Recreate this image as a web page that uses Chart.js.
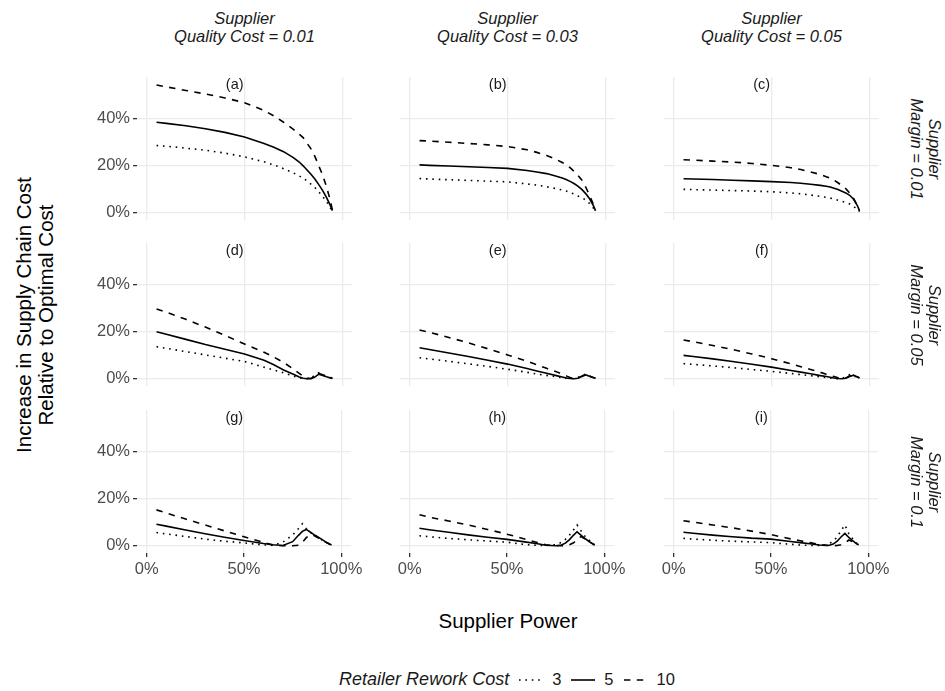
<!DOCTYPE html>
<html lang="en">

<head>
    <meta charset="UTF-8">
    <title>Supply Chain Cost by Supplier Power</title>
    <script src="https://cdn.jsdelivr.net/npm/chart.js@4.4.1/dist/chart.umd.min.js"></script>
    <style>
        body { margin: 0; background: #fff; }
        #wrap { position: relative; width: 945px; height: 691px; font-family: "Liberation Sans", Arial, sans-serif; }
        canvas { position: absolute; }
        .txt { position: absolute; white-space: pre; text-align: center; color: #1a1a1a; }
        .strip { font-size: 16.5px; font-style: italic; line-height: 18px; }
        .title { font-size: 20.5px; line-height: 22px; color: #000; }
        #legend { position: absolute; left: 0; width: 1014px; top: 669px; display: flex; justify-content: center; align-items: center; font-size: 16.5px; color: #1a1a1a; }
        #legend canvas { position: static; margin: 0 9px 0 10px; }
    </style>
</head>

<body>
    <div id="wrap">
        <div id="legend"></div>
    </div>
    <script>
        // supplier power (%) where the curves were read
        const power = [5, 10, 20, 30, 40, 50, 60, 65, 70, 75, 78, 80, 82, 84, 86, 88, 90, 92, 94, 95]

        const qualityCosts = ['0.01', '0.03', '0.05']
        const margins = ['0.01', '0.05', '0.1']
        const reworkCosts = ['3', '5', '10']
        const tags = ['(a)', '(b)', '(c)', '(d)', '(e)', '(f)', '(g)', '(h)', '(i)']
        const xTicks = [0, 50, 100]
        const yTicks = [0, 20, 40]

        // increase in supply chain cost (%), per panel and rework cost
        const a3 = [28.6, 28.3, 27.5, 26.6, 25.4, 23.8, 21.7, 20.4, 18.8, 17, 15.7, 14.8, 13.6, 12.2, 10.8, 9, 7, 4.8, 2, 0.5]
        const a5 = [38.5, 38, 37, 35.7, 34.2, 32.2, 29.5, 27.9, 26, 23.5, 21.6, 20, 18.2, 16.4, 14.4, 12, 9.5, 6.5, 3, 1]
        const a10 = [54.3, 53.5, 52, 50.5, 48.8, 46.8, 43.5, 41.2, 38.5, 35.5, 33.4, 32, 29.6, 27.2, 24, 20, 16, 11, 5, 1]

        const b3 = [14.6, 14.4, 14.1, 13.8, 13.5, 13.2, 12.3, 11.8, 11.1, 10.3, 9.7, 9.3, 8.7, 8, 7.2, 6.5, 5.5, 4, 2, 0.5]
        const b5 = [20.4, 20.2, 19.9, 19.6, 19.3, 18.9, 18, 17.4, 16.7, 15.6, 14.8, 14.2, 13.4, 12.5, 11.4, 10, 8.2, 6, 3, 1]
        const b10 = [30.7, 30.5, 30, 29.5, 28.9, 28.2, 26.8, 25.7, 24.4, 22.7, 21.4, 20.5, 19.2, 17.7, 16, 14, 11, 7.5, 3.5, 1]

        const c3 = [10, 9.9, 9.7, 9.5, 9.3, 9, 8.5, 8.1, 7.6, 7, 6.6, 6.3, 5.9, 5.4, 4.9, 4.5, 3.8, 2.8, 1.3, 0.5]
        const c5 = [14.5, 14.4, 14.2, 13.9, 13.6, 13.3, 12.9, 12.6, 12.2, 11.7, 11.3, 11, 10.5, 9.9, 9.2, 8.5, 7.5, 5.8, 3, 1]
        const c10 = [22.6, 22.4, 22, 21.6, 21, 20.2, 19.2, 18.4, 17.4, 16.3, 15.4, 14.8, 13.9, 12.8, 11.6, 10.3, 8.4, 6.2, 3, 1]

        const d3 = [13.7, 13, 11.6, 10.2, 8.8, 7.4, 5, 3.8, 2.6, 1.2, 0.5, 0.2, 0.1, 0.5, 1.5, 2.6, 1.7, 1, 0.5, 0.3]
        const d5 = [20, 19, 16.8, 14.6, 12.6, 10.6, 7.9, 6, 3.8, 2, 0.8, 0.3, 0.1, 0.1, 0.8, 2, 1.5, 0.9, 0.4, 0.2]
        const d10 = [29.7, 28.3, 25.3, 22, 18.5, 14.8, 11.3, 9.3, 7, 4.2, 2.4, 1.2, 0.4, 0.2, 1.2, 2.4, 1.8, 1.2, 0.6, 0.4]

        const e3 = [9, 8.5, 7.5, 6.4, 5.3, 4.1, 2.8, 2.1, 1.5, 0.9, 0.5, 0.3, 0.2, 0.2, 0.6, 1.5, 2, 1.2, 0.5, 0.3]
        const e5 = [13.2, 12.5, 11, 9.5, 7.9, 6.3, 4.4, 3.4, 2.4, 1.4, 0.8, 0.4, 0.2, 0.1, 0.3, 1, 1.7, 1.1, 0.5, 0.3]
        const e10 = [20.8, 19.8, 17.6, 15.3, 12.8, 10.2, 7.5, 6, 4.5, 3, 2, 1.3, 0.6, 0.2, 0.3, 1.2, 2, 1.2, 0.6, 0.4]

        const f3 = [6.5, 6.2, 5.5, 4.8, 4, 3.2, 2.3, 1.8, 1.4, 0.9, 0.6, 0.4, 0.2, 0.1, 0.3, 0.8, 1.8, 1.3, 0.6, 0.3]
        const f5 = [10, 9.5, 8.5, 7.4, 6.2, 5, 3.6, 2.9, 2.2, 1.4, 1, 0.7, 0.4, 0.2, 0.1, 0.3, 1, 1.6, 0.8, 0.4]
        const f10 = [16.5, 15.8, 14.2, 12.5, 10.6, 8.6, 6.4, 5.2, 4, 2.8, 2, 1.5, 1, 0.5, 0.2, 0.4, 1.2, 1.8, 0.8, 0.5]

        const g3 = [5.7, 5.1, 4, 2.9, 2, 1.3, 0.4, 0.3, 1.6, 4.6, 7.4, 9.4, 7.4, 5.8, 4.6, 3.6, 2.6, 1.6, 0.7, 0.3]
        const g5 = [9.2, 8.4, 6.8, 5.2, 3.7, 2.3, 1, 0.5, 0.2, 1.8, 4.5, 6.2, 7, 5.9, 4.8, 3.8, 2.8, 1.7, 0.8, 0.4]
        const g10 = [15.3, 14, 11.4, 8.9, 6.4, 3.9, 1.5, 0.3, 0.1, 0.1, 0.3, 1.5, 3.5, 4.8, 4.4, 3.5, 2.6, 1.6, 0.7, 0.4]

        const h3 = [4.3, 3.9, 3.2, 2.6, 2.1, 1.6, 0.5, 0.3, 0.2, 0.5, 1.5, 2.8, 4.5, 6.6, 8.9, 6.4, 4.2, 2.6, 1.1, 0.4]
        const h5 = [7.5, 6.9, 5.8, 4.7, 3.7, 2.8, 1.6, 1, 0.3, 0.1, 0.4, 1.2, 2.6, 4.4, 6, 4.6, 3.2, 2, 0.9, 0.4]
        const h10 = [13.2, 12.2, 10.6, 8.9, 7, 5, 2.7, 1.6, 0.5, 0.1, 0.1, 0.2, 0.5, 1.2, 2.5, 4, 3, 2, 1, 0.5]

        const i3 = [3.2, 2.9, 2.4, 2, 1.7, 1.4, 0.7, 0.4, 0.2, 0.2, 0.5, 1, 2, 3.8, 6.4, 8.9, 5.2, 3, 1.2, 0.5]
        const i5 = [5.8, 5.4, 4.6, 3.9, 3.3, 2.9, 1.9, 1.4, 0.9, 0.4, 0.2, 0.3, 0.8, 2, 3.8, 5.3, 3.6, 2.2, 0.9, 0.5]
        const i10 = [10.7, 10.1, 8.9, 7.7, 6.3, 4.8, 3, 2.2, 1.4, 0.6, 0.3, 0.2, 0.1, 0.2, 0.5, 1.2, 2.5, 1.8, 0.9, 0.5]

        const panels = [
            [a3, a5, a10], [b3, b5, b10], [c3, c5, c10],
            [d3, d5, d10], [e3, e5, e10], [f3, f5, f10],
            [g3, g5, g10], [h3, h5, h10], [i3, i5, i10]
        ]

        // layout of the facet grid
        const colLeft = [137, 400, 664]
        const rowTop = [77, 243, 410]
        const panelW = 215
        const panelH = 143
        const pad = 14
        const yAxisW = 44
        const xAxisH = 26
        const lineW = 1.6
        // ggplot-like dotted ("13") and dashed ("44") patterns
        const dashes = [[lineW, lineW * 3], [], [lineW * 4, lineW * 4]]
        const font = '"Liberation Sans", Arial, sans-serif'

        const wrap = document.getElementById('wrap')

        const panelTag = {
            id: 'panelTag',
            afterDatasetsDraw(chart, args, opts) {
                const { ctx, scales } = chart
                ctx.save()
                ctx.font = '14.5px ' + font
                ctx.fillStyle = '#1a1a1a'
                ctx.textAlign = 'center'
                ctx.textBaseline = 'middle'
                ctx.fillText(opts.text, scales.x.getPixelForValue(45), scales.y.getPixelForValue(54.3))
                ctx.restore()
            }
        }

        panels.forEach((series, p) => {
            const row = Math.floor(p / 3)
            const col = p % 3
            const left = col === 0
            const bottom = row === 2
            const w = panelW + (left ? yAxisW : 0) + 2 * pad
            const h = panelH + (bottom ? xAxisH : 0) + 2 * pad

            const cv = document.createElement('canvas')
            cv.width = w
            cv.height = h
            cv.style.left = (colLeft[col] - (left ? yAxisW : 0) - pad) + 'px'
            cv.style.top = (rowTop[row] - pad) + 'px'
            wrap.appendChild(cv)

            new Chart(cv, {
                type: 'line',
                data: {
                    datasets: series.map((vals, k) => ({
                        label: reworkCosts[k],
                        data: power.map((x, i) => ({ x: x, y: vals[i] })),
                        borderColor: '#000',
                        borderWidth: lineW,
                        borderDash: dashes[k],
                        pointRadius: 0,
                        fill: false,
                        tension: 0
                    }))
                },
                options: {
                    responsive: false,
                    animation: false,
                    events: [],
                    layout: { padding: pad },
                    plugins: {
                        legend: { display: false },
                        tooltip: { enabled: false },
                        panelTag: { text: tags[p] }
                    },
                    scales: {
                        x: {
                            type: 'linear',
                            min: -5,
                            max: 105,
                            afterBuildTicks: s => { s.ticks = xTicks.map(v => ({ value: v })) },
                            afterFit: s => { s.height = bottom ? xAxisH : 0 },
                            border: { display: false },
                            grid: { color: '#ebebeb', lineWidth: 1.3, drawTicks: bottom, tickLength: 4, tickColor: '#333', tickWidth: 1.3 },
                            ticks: {
                                display: bottom, padding: 3, color: '#4d4d4d', maxRotation: 0, autoSkip: false,
                                font: { family: font, size: 16.5 },
                                callback: v => v + '%'
                            }
                        },
                        y: {
                            type: 'linear',
                            min: -3,
                            max: 57.7,
                            afterBuildTicks: s => { s.ticks = yTicks.map(v => ({ value: v })) },
                            afterFit: s => { s.width = left ? yAxisW : 0 },
                            border: { display: false },
                            grid: { color: '#ebebeb', lineWidth: 1.3, drawTicks: left, tickLength: 4, tickColor: '#333', tickWidth: 1.3 },
                            ticks: {
                                display: left, padding: 3, color: '#4d4d4d', autoSkip: false,
                                font: { family: font, size: 16.5 },
                                callback: v => v + '%'
                            }
                        }
                    }
                },
                plugins: [panelTag]
            })
        })

        function addText(text, cx, cy, cls, rot) {
            const d = document.createElement('div')
            d.className = 'txt ' + cls
            d.textContent = text
            d.style.left = cx + 'px'
            d.style.top = cy + 'px'
            d.style.transform = 'translate(-50%, -50%)' + (rot ? ' rotate(' + rot + 'deg)' : '')
            wrap.appendChild(d)
        }

        // strips
        qualityCosts.forEach((q, c) => {
            addText('Supplier\nQuality Cost = ' + q, colLeft[c] + panelW / 2, 27, 'strip')
        })
        margins.forEach((m, r) => {
            addText('Supplier\nMargin = ' + m, 926, rowTop[r] + panelH / 2, 'strip', 90)
        })

        // axis titles
        addText('Supplier Power', (colLeft[0] + colLeft[2] + panelW) / 2, 621, 'title')
        addText('Increase in Supply Chain Cost\nRelative to Optimal Cost', 35, (rowTop[0] + rowTop[2] + panelH) / 2, 'title', -90)

        // legend
        const legend = document.getElementById('legend')
        const lt = document.createElement('span')
        lt.style.fontStyle = 'italic'
        lt.style.fontSize = '18px'
        lt.textContent = 'Retailer Rework Cost'
        legend.appendChild(lt)
        reworkCosts.forEach((r, k) => {
            const key = document.createElement('canvas')
            key.width = 24
            key.height = 12
            const kc = key.getContext('2d')
            kc.strokeStyle = '#000'
            kc.lineWidth = lineW
            kc.setLineDash(dashes[k])
            kc.beginPath()
            kc.moveTo(0, 6)
            kc.lineTo(24, 6)
            kc.stroke()
            legend.appendChild(key)
            const s = document.createElement('span')
            s.textContent = r
            legend.appendChild(s)
        })
    </script>
</body>

</html>
